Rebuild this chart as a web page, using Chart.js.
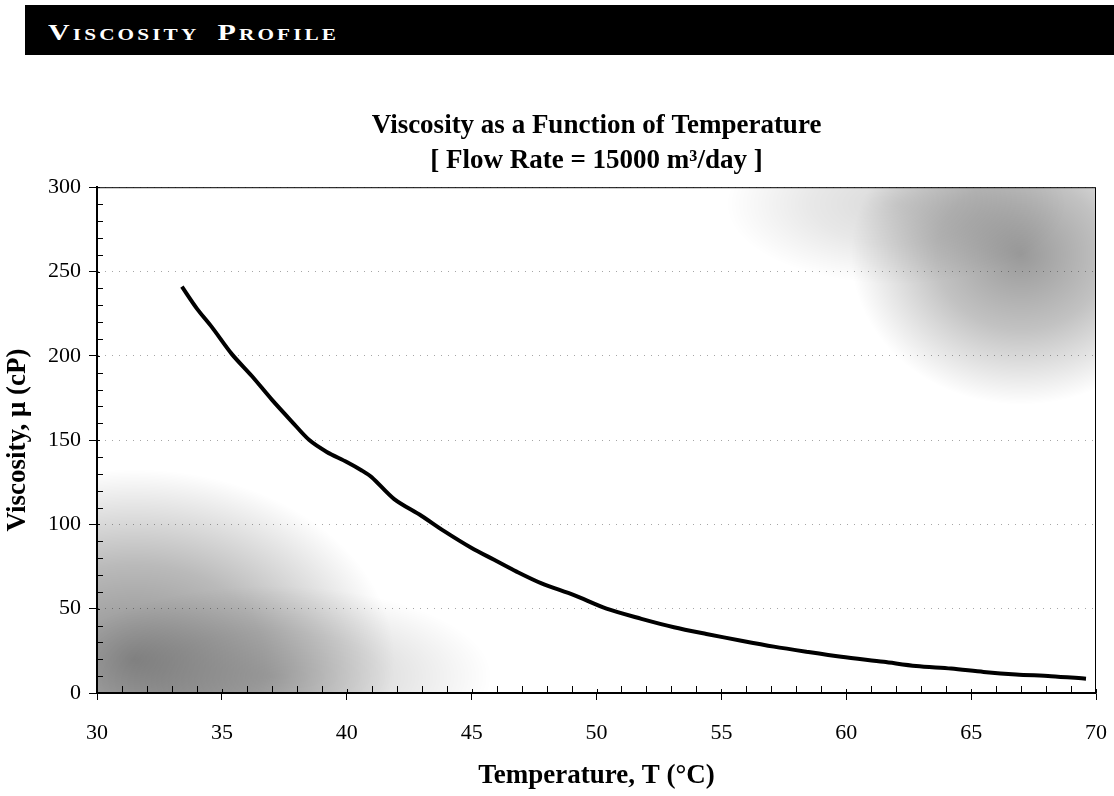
<!DOCTYPE html>
<html>
<head>
<meta charset="utf-8">
<script src="https://cdn.jsdelivr.net/npm/chart.js@4/dist/chart.umd.min.js"></script>
<style>
  html, body { margin: 0; padding: 0; background: #fff; }
  #wrap { position: relative; width: 1114px; height: 796px; }
  #header {
    position: absolute; left: 25px; top: 5px; right: 0; height: 50px;
    background: #000;
  }
  #header span {
    position: absolute; left: 23px; top: 0;
    color: #fff; white-space: nowrap;
    font-family: "Liberation Serif", "Times New Roman", serif;
    font-size: 24px; font-weight: bold; font-variant: small-caps; letter-spacing: 2.5px; word-spacing: 6px;
    line-height: 54px;
    transform: scaleX(1.25); transform-origin: left center;
  }
  canvas { position: absolute; left: 0; top: 0; }
</style>
</head>
<body>
<div id="wrap">
  <div id="header"><span>Viscosity Profile</span></div>
  <canvas id="graph_viscosity" width="1114" height="796"></canvas>
</div>
<script>
// temperature (C) and viscosity (cP) along the curve
const temperature = [33.4, 34.0, 34.6, 35.4, 36.2, 37.0, 37.8, 38.5, 39.2, 40.0, 40.6, 41.0, 41.9, 43.0, 43.9, 45.0, 45.9, 46.8, 47.8, 49.1, 50.4, 51.8, 53.1, 54.4, 55.8, 57.1, 58.4, 59.8, 61.5, 62.8, 64.2, 65.5, 66.8, 68.2, 69.6];
const viscosity = [241, 228, 217, 201, 188, 174, 161, 150, 143, 137, 132, 128, 115, 105, 96, 86, 79, 72, 65, 58, 50, 44, 39, 35, 31, 27.5, 24.5, 21.5, 18.5, 16, 14.5, 12.5, 11, 10, 8.5];
const titleLines = ['Viscosity as a Function of Temperature', '[ Flow Rate = 15000 m\u00B3/day ]'];
const xTitle = 'Temperature, T (\u00B0C)';
const yTitle = 'Viscosity, \u03BC (cP)';

const points = [];
for (let i = 0; i < temperature.length; i++) {
  points.push({x: temperature[i], y: viscosity[i]});
}

const serif = '"Liberation Serif", "Times New Roman", serif';

// scanned-paper shading behind the curve
const hazePlugin = {
  id: 'haze',
  beforeDatasetsDraw(chart) {
    const {ctx, chartArea: a, scales: {x, y}} = chart;
    ctx.save();
    ctx.beginPath();
    ctx.rect(a.left, a.top, a.right - a.left, a.bottom - a.top);
    ctx.clip();
    const blob = (cx, cy, rx, ry, alpha) => {
      ctx.save();
      ctx.translate(x.getPixelForValue(cx), y.getPixelForValue(cy));
      ctx.scale(1, ry / rx);
      const g = ctx.createRadialGradient(0, 0, 0, 0, 0, rx);
      g.addColorStop(0, 'rgba(0,0,0,' + alpha + ')');
      g.addColorStop(0.5, 'rgba(0,0,0,' + (alpha * 0.6) + ')');
      g.addColorStop(1, 'rgba(0,0,0,0)');
      ctx.fillStyle = g;
      ctx.beginPath();
      ctx.arc(0, 0, rx, 0, Math.PI * 2);
      ctx.fill();
      ctx.restore();
    };
    blob(31.5, 20, 260, 190, 0.45);
    blob(37, 10, 220, 90, 0.2);
    blob(67, 260, 170, 150, 0.4);
    blob(62, 290, 170, 80, 0.15);
    ctx.restore();
  }
};

// frame plus minor ticks pointing into the plot
const framePlugin = {
  id: 'frame',
  afterDraw(chart) {
    const {ctx, chartArea: a, scales: {x, y}} = chart;
    ctx.save();
    ctx.strokeStyle = '#000';
    ctx.lineWidth = 1;
    ctx.strokeRect(a.left + 0.5, a.top + 0.5, a.right - a.left - 1, a.bottom - a.top);
    ctx.beginPath();
    for (let t = 30; t <= 70; t++) {
      const px = Math.round(x.getPixelForValue(t)) + 0.5;
      const len = t % 5 === 0 ? 4 : 7;
      ctx.moveTo(px, a.bottom);
      ctx.lineTo(px, a.bottom - len);
    }
    for (let v = 0; v <= 300; v += 10) {
      const py = Math.round(y.getPixelForValue(v)) + 0.5;
      const len = v % 50 === 0 ? 3 : 6;
      ctx.moveTo(a.left, py);
      ctx.lineTo(a.left + len, py);
    }
    ctx.stroke();
    ctx.restore();
  }
};

const viscosityChart = new Chart('graph_viscosity', {
  type: 'scatter',
  data: {
    datasets: [{
      label: 'Viscosity',
      data: points,
      showLine: true,
      borderColor: '#000',
      backgroundColor: '#000',
      borderWidth: 4,
      pointRadius: 0,
      tension: 0.3
    }]
  },
  options: {
    responsive: false,
    animation: false,
    layout: {padding: {top: 108, right: 18, left: 0, bottom: 0}},
    plugins: {
      legend: {display: false},
      tooltip: {enabled: false},
      title: {
        display: true,
        fullSize: false,
        text: titleLines,
        color: '#000',
        font: {family: serif, size: 27, weight: 'bold', lineHeight: 1.3},
        padding: {top: 0, bottom: 9}
      }
    },
    scales: {
      x: {
        type: 'linear',
        min: 30,
        max: 70,
        afterFit(scale) {
          scale.height = 103;
          scale.paddingLeft = 0;
          scale.paddingRight = 0;
        },
        ticks: {stepSize: 5, color: '#000', padding: 20, font: {family: serif, size: 22}},
        grid: {drawOnChartArea: false, tickLength: 7, color: '#000', tickColor: '#000'},
        border: {color: '#000', width: 1.5},
        title: {
          display: true,
          text: xTitle,
          color: '#000',
          font: {family: serif, size: 27, weight: 'bold'},
          padding: {top: 0, bottom: 4}
        }
      },
      y: {
        min: 0,
        max: 300,
        afterFit(scale) {
          scale.width = 97;
          scale.paddingTop = 0;
          scale.paddingBottom = 0;
        },
        ticks: {stepSize: 50, color: '#000', padding: 8, font: {family: serif, size: 22}},
        grid: {color: 'rgba(0,0,0,0.35)', tickColor: '#000', tickLength: 8},
        border: {color: '#000', width: 2, dash: [1, 6]},
        title: {
          display: true,
          text: yTitle,
          color: '#000',
          font: {family: serif, size: 27, weight: 'bold'},
          padding: {top: 2, bottom: 0}
        }
      }
    }
  },
  plugins: [hazePlugin, framePlugin]
});
</script>
</body>
</html>
